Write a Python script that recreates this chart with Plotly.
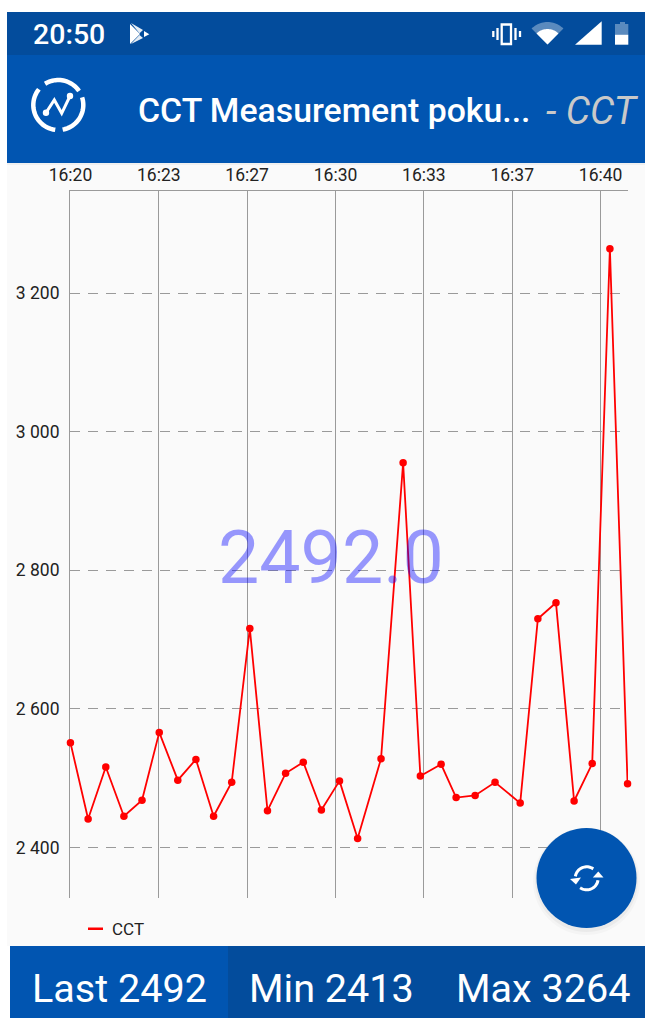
import plotly.graph_objects as go
import math

W, H = 645, 1018

# --- data ---
series_name = "CCT"
seconds = [0, 40, 80, 121, 162, 201, 243, 284, 324, 365, 406, 446, 487, 527, 568, 609,
           650, 703, 753, 792, 839, 873, 916, 961, 1018, 1058, 1099, 1140, 1181, 1221, 1261]
values = [2551, 2441, 2516, 2445, 2468, 2566, 2497, 2527, 2445, 2494, 2716, 2453, 2507, 2523, 2454, 2496,
          2413, 2528, 2955, 2503, 2520, 2472, 2475, 2494, 2464, 2730, 2753, 2467, 2521, 3264, 2492]
x_tick_seconds = [0, 200, 400, 600, 800, 1000, 1200]
x_tick_labels = ["16:20", "16:23", "16:27", "16:30", "16:33", "16:37", "16:40"]
y_ticks = [2400, 2600, 2800, 3000, 3200]
y_tick_labels = ["2 400", "2 600", "2 800", "3 000", "3 200"]
current_value = "2492.0"
last_label, min_label, max_label = "Last 2492", "Min 2413", "Max 3264"
status_time = "20:50"
title_main = "CCT Measurement poku..."
title_sub = "- CCT"

BLUE = "#0155B1"
DARK = "#034C9C"
GRID = "#9A9A9A"
FONT = "Roboto"

def px(x): return x / W
def py(y): return 1 - y / H

def rect(x0, y0, x1, y1, color, layer="above"):
    return dict(type="rect", xref="paper", yref="paper", x0=px(x0), x1=px(x1), y0=py(y0), y1=py(y1),
                fillcolor=color, line_width=0, layer=layer)

def ellipse(x0, y0, x1, y1, color, layer="above"):
    return dict(type="circle", xref="paper", yref="paper", x0=px(x0), x1=px(x1), y0=py(y0), y1=py(y1),
                fillcolor=color, line_width=0, layer=layer)

def path(points, fill=None, line=None, width=0, close=False):
    """Decorative icon outline given in screen pixels."""
    d = "M " + " L ".join(f"{px(a):.5f},{py(b):.5f}" for a, b in points) + (" Z" if close else "")
    return dict(type="path", xref="paper", yref="paper", path=d, fillcolor=fill or "rgba(0,0,0,0)",
                line=dict(color=line or "rgba(0,0,0,0)", width=width), layer="above")

def arc_pts(cx, cy, r, a0, a1, n=24):
    return [(cx + r * math.cos(math.radians(a0 + (a1 - a0) * i / n)),
             cy + r * math.sin(math.radians(a0 + (a1 - a0) * i / n))) for i in range(n + 1)]

shapes = [
    rect(7, 163, W, 946, "#FAFAFA", "below"),
    rect(7, 163, W, 165, "#F0F0F0", "below"),
    # FAB shadow + body
    ellipse(533, 828, 640, 935, "rgba(0,0,0,0.025)"),
    ellipse(535, 828, 638, 932, "rgba(0,0,0,0.04)"),
    ellipse(536.5, 828, 636.5, 928, BLUE),
    # bars
    rect(7, 12, W, 55, DARK),
    rect(7, 55, W, 163, BLUE),
    rect(10, 946, 228, H, BLUE),
    rect(228, 946, W, H, DARK),
    # legend sample
    rect(88, 927.5, 103, 930, "#FF0000"),
    # logo
    path(arc_pts(58.3, 105, 25, 238, 326), line="white", width=4.5),
    path(arc_pts(58.3, 105, 25, 342, 440), line="white", width=4.5),
    path(arc_pts(58.3, 105, 25, 97, 219), line="white", width=4.5),
    path([(46, 112.7), (54.3, 100), (61.7, 113.3), (70, 96)], line="white", width=3),
    ellipse(42.8, 109.5, 49.2, 115.9, "white"),
    ellipse(66.8, 92.8, 73.2, 99.2, "white"),
    # play store icon
    path([(130, 24), (140, 34), (130, 44)], fill="white", close=True),
    path([(131, 23), (143, 30), (139.5, 33.2)], fill="rgba(255,255,255,0.9)", close=True),
    path([(144, 31), (149.3, 34.2), (144, 37)], fill="white", close=True),
    path([(131, 44), (143, 38), (139.5, 35)], fill="rgba(255,255,255,0.9)", close=True),
    # vibrate
    path([(501.7, 24.5), (501.7, 44), (511, 44), (511, 24.5)], line="white", width=2.3, close=True),
    path([(497.5, 28), (497.5, 40)], line="white", width=2.3),
    path([(515.5, 28), (515.5, 40)], line="white", width=2.3),
    path([(493.3, 31), (493.3, 37)], line="white", width=2.3),
    path([(520, 31), (520, 37)], line="white", width=2.3),
    # wifi
    path([(547.5, 44.5)] + arc_pts(547.5, 44.5, 22.5, 225, 315), fill="rgba(255,255,255,0.35)", close=True),
    path([(547.5, 44.5)] + arc_pts(547.5, 44.5, 15.5, 225, 315), fill="white", close=True),
    # signal
    path([(575, 44.7), (601.7, 21.3), (601.7, 44.7)], fill="white", close=True),
    # battery
    path([(615, 34.7), (615, 24), (620, 24), (620, 22), (625, 22), (625, 24), (628.3, 24), (628.3, 34.7)],
         fill="rgba(255,255,255,0.35)", close=True),
    rect(615, 34.7, 628.3, 44.7, "white"),
    # refresh icon
    path(arc_pts(586.7, 878.3, 11.5, 190, 305), line="white", width=3),
    path(arc_pts(586.7, 878.3, 11.5, 10, 125), line="white", width=3),
    path([(570, 879), (581, 877.5), (576, 884.5)], fill="white", close=True),
    path([(592.8, 877.5), (603.5, 877.5), (598.3, 871.5)], fill="white", close=True),
]

def note(text, x, y, size, color="white", anchor="left", italic=False, weight=None):
    return dict(text=f"<i>{text}</i>" if italic else text, xref="paper", yref="paper", x=px(x), y=py(y),
                xanchor=anchor, yanchor="middle", showarrow=False,
                font=dict(family=FONT, size=size, color=color, weight=weight))

annotations = [
    note(current_value, 331, 558, 73.5, "rgba(0,0,255,0.4)", "center"),
    note(status_time, 31, 34, 28.5, weight=500),
    note(title_main, 135.5, 110, 33.8, weight=500),
    note(title_sub, 544, 110, 38.5, "#C9C9C9", italic=True),
    note(series_name, 110, 929, 17, "#222222"),
    note(last_label, 30, 988, 39.6),
    note(min_label, 247, 988, 39.6),
    note(max_label, 454, 988, 39.6),
]

fig = go.Figure(go.Scatter(
    x=seconds, y=values, name=series_name, mode="lines+markers",
    line=dict(color="#FF0000", width=1.8), marker=dict(color="#FF0000", size=7.5),
    showlegend=False, cliponaxis=False,
))

fig.update_layout(
    width=W, height=H, margin=dict(l=0, r=0, t=0, b=0),
    paper_bgcolor="white", plot_bgcolor="rgba(0,0,0,0)",
    showlegend=False, shapes=shapes, annotations=annotations,
    font=dict(family=FONT, color="#222222"),
    xaxis=dict(domain=[px(70), px(628)], range=[-1, 1262], side="top", automargin=False,
               tickmode="array", tickvals=x_tick_seconds, ticktext=x_tick_labels,
               tickfont=dict(size=17.5), ticks="", ticklen=0, ticklabelstandoff=2,
               showgrid=True, gridcolor=GRID, gridwidth=1, layer="below traces",
               showline=True, linecolor=GRID, linewidth=1, zeroline=False),
    yaxis=dict(domain=[py(898), py(190.5)], range=[2327, 3348], automargin=False,
               tickmode="array", tickvals=y_ticks, ticktext=y_tick_labels,
               tickfont=dict(size=17.5), ticks="", ticklen=0, ticklabelstandoff=6,
               showgrid=True, gridcolor=GRID, gridwidth=1, griddash="10px,8px", layer="below traces",
               showline=True, linecolor=GRID, linewidth=1, zeroline=False),
)

fig.write_html("out.html", config=dict(displayModeBar=False),
               post_script="document.body.style.margin='0';document.body.style.overflow='hidden';")
